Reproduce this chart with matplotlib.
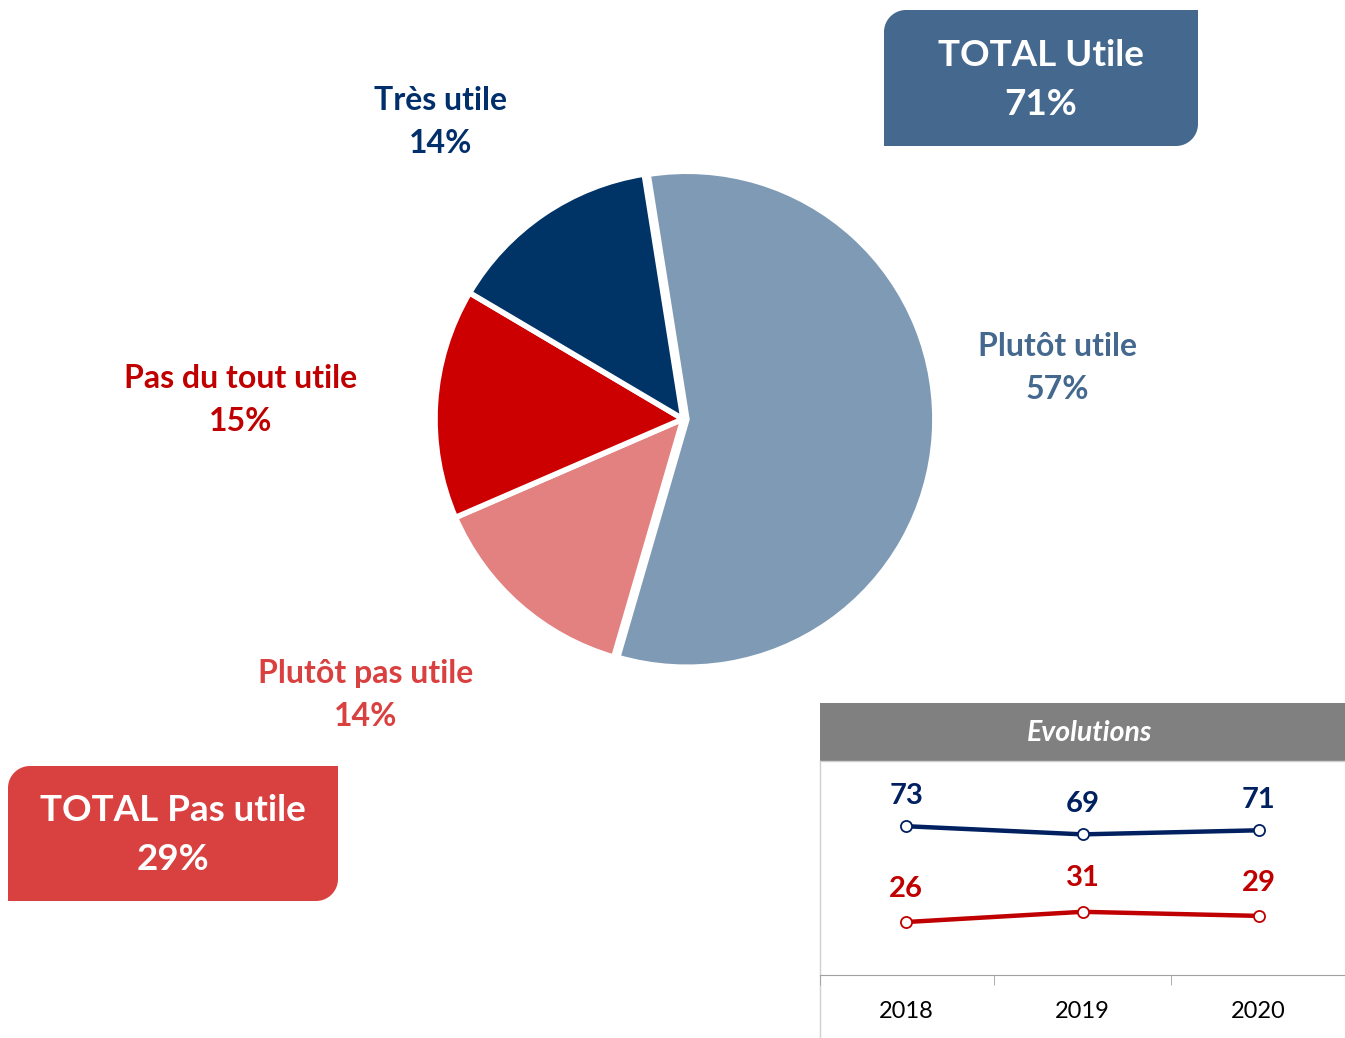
import numpy as np
import matplotlib
matplotlib.use('Agg')
import matplotlib.pyplot as plt
from matplotlib.patches import Polygon, Rectangle

plt.rcParams['font.family'] = ['Lato', 'DejaVu Sans']

# data
labels = ['Plutôt utile', 'Plutôt pas utile', 'Pas du tout utile', 'Très utile']
shares = [57, 14, 15, 14]
slice_colors = ['#7F9AB5', '#E38080', '#CC0000', '#003366']
label_colors = ['#44688E', '#D94040', '#C00000', '#002F6C']

total_utile = 71
total_pas_utile = 29

years = ['2018', '2019', '2020']
evo_utile = [73, 69, 71]
evo_pas_utile = [26, 31, 29]

W, H = 1345, 1038
fig = plt.figure(figsize=(W / 100, H / 100), dpi=100)

# overlay in pixel coords
bg = fig.add_axes([0, 0, 1, 1])
bg.set_xlim(0, W)
bg.set_ylim(H, 0)
bg.axis('off')


def box(x0, y0, x1, y1, r, color):
    t = np.linspace(0, np.pi / 2, 20)
    pts = [(x0 + r, y0), (x1, y0), (x1, y1 - r)]
    # bottom-right arc
    pts += list(zip(x1 - r + r * np.cos(t), y1 - r + r * np.sin(t)))
    pts += [(x1 - r, y1), (x0, y1), (x0, y0 + r)]
    # top-left arc
    pts += list(zip(x0 + r - r * np.cos(t), y0 + r - r * np.sin(t)))
    bg.add_patch(Polygon(pts, closed=True, facecolor=color, edgecolor='none'))


box(884, 10, 1198, 146, 22, '#44688E')
bg.text(1041, 80, 'TOTAL Utile\n%d%%' % total_utile, ha='center', va='center',
        color='white', fontsize=26.5, fontweight='bold', linespacing=1.62)

box(8, 766, 338, 901, 22, '#D94040')
bg.text(173, 835, 'TOTAL Pas utile\n%d%%' % total_pas_utile, ha='center', va='center',
        color='white', fontsize=26.5, fontweight='bold', linespacing=1.62)

# pie
cx, cy, R = 683, 419, 248
pa = fig.add_axes([(cx - 260) / W, 1 - (cy + 260) / H, 520 / W, 520 / H])
pa.pie(shares, colors=slice_colors, startangle=99, counterclock=False,
       radius=R / 260, explode=[0.015, 0, 0, 0],
       wedgeprops=dict(edgecolor='white', linewidth=4))
pa.set_xlim(-1, 1)
pa.set_ylim(-1, 1)
pa.set_aspect('equal')

label_pos = [(1057, 368), (366, 695), (241, 400), (441, 122)]
for lab, v, c, (x, y) in zip(labels, shares, label_colors, label_pos):
    bg.text(x, y, '%s\n%d%%' % (lab, v), ha='center', va='center', color=c,
            fontsize=23, fontweight='bold', linespacing=1.55)

# evolutions inset
bg.add_patch(Rectangle((820, 703), 525, 58, facecolor='#808080', edgecolor='none'))
bg.text(1090, 733, 'Evolutions', ha='center', va='center', color='white',
        fontsize=20.5, fontweight='bold', style='italic')
bg.plot([820, 820], [761, 1038], color='#D0D0D0', lw=1)
bg.plot([820, 1345], [761, 761], color='#D0D0D0', lw=1)

ea = fig.add_axes([820 / W, 1 - 975 / H, 525 / W, (975 - 761) / H])
x = np.arange(len(years))
ea.plot(x, evo_utile, color='#002060', lw=3.2, marker='o', ms=8,
        mfc='white', mec='#002060', mew=1.3)
ea.plot(x, evo_pas_utile, color='#C00000', lw=3.2, marker='o', ms=8,
        mfc='white', mec='#C00000', mew=1.3)
for xi, v in zip(x, evo_utile):
    ea.annotate(str(v), (xi, v), xytext=(0, 22), textcoords='offset points',
                ha='center', va='center', color='#002060', fontsize=21, fontweight='bold')
for xi, v in zip(x, evo_pas_utile):
    ea.annotate(str(v), (xi, v), xytext=(0, 24), textcoords='offset points',
                ha='center', va='center', color='#C00000', fontsize=21, fontweight='bold')
ea.set_xlim(-0.49, 2.49)
ea.set_ylim(0, 105)
ea.set_xticks(x)
ea.set_xticklabels(years, fontsize=17)
ea.set_xticks([-0.49, 0.5, 1.5], minor=True)
ea.tick_params(axis='x', which='major', length=0, pad=19)
ea.tick_params(axis='x', which='minor', length=7, color='#A0A0A0')
ea.set_yticks([])
for s in ['top', 'right', 'left']:
    ea.spines[s].set_visible(False)
ea.spines['bottom'].set_color('#A0A0A0')
ea.patch.set_alpha(0)

fig.savefig('out.png', dpi=100)
